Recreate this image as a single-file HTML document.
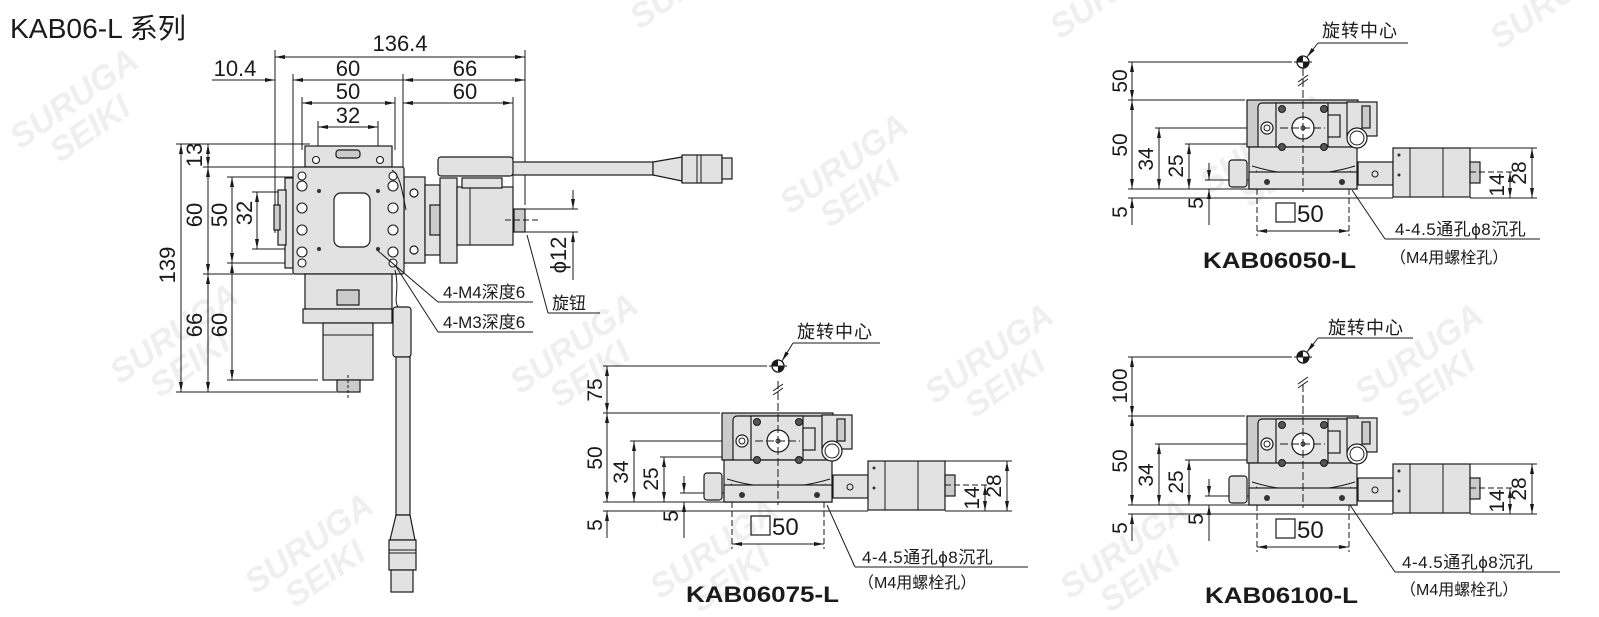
<!DOCTYPE html>
<html><head><meta charset="utf-8"><style>
html,body{margin:0;padding:0;background:#fff}
svg{display:block}
text{font-family:"Liberation Sans","Noto Sans CJK SC",sans-serif;fill:#1a1a1a}
.l{stroke:#1a1a1a;stroke-width:1;fill:none}
.f{fill:#e2e2e2;stroke:#1a1a1a;stroke-width:1.2}
.g{fill:#cbcbcb;stroke:#1a1a1a;stroke-width:1.2}
.w{fill:#fff;stroke:#1a1a1a;stroke-width:1.2}
.d{stroke:#1a1a1a;stroke-width:1;fill:none;marker-start:url(#a);marker-end:url(#a)}
.wm{font-family:"Liberation Sans",sans-serif;font-weight:bold;font-style:italic;fill:#efefef;font-size:34px}
</style></head><body>
<svg width="1599" height="617" viewBox="0 0 1599 617" xmlns="http://www.w3.org/2000/svg">
<defs>
<marker id="a" viewBox="0 0 10 4" refX="10" refY="2" markerWidth="10" markerHeight="4" markerUnits="userSpaceOnUse" orient="auto-start-reverse"><path d="M0,0L10,2L0,4z" fill="#1a1a1a"/></marker>
</defs>

<g>
<g transform="translate(20,150) rotate(-35)"><text class="wm" x="0" y="0">SURUGA</text><text class="wm" x="25" y="34">SEIKI</text></g>
<g transform="translate(790,215) rotate(-35)"><text class="wm" x="0" y="0">SURUGA</text><text class="wm" x="25" y="34">SEIKI</text></g>
<g transform="translate(120,385) rotate(-35)"><text class="wm" x="0" y="0">SURUGA</text><text class="wm" x="25" y="34">SEIKI</text></g>
<g transform="translate(520,395) rotate(-35)"><text class="wm" x="0" y="0">SURUGA</text><text class="wm" x="25" y="34">SEIKI</text></g>
<g transform="translate(935,405) rotate(-35)"><text class="wm" x="0" y="0">SURUGA</text><text class="wm" x="25" y="34">SEIKI</text></g>
<g transform="translate(1365,405) rotate(-35)"><text class="wm" x="0" y="0">SURUGA</text><text class="wm" x="25" y="34">SEIKI</text></g>
<g transform="translate(255,595) rotate(-35)"><text class="wm" x="0" y="0">SURUGA</text><text class="wm" x="25" y="34">SEIKI</text></g>
<g transform="translate(660,600) rotate(-35)"><text class="wm" x="0" y="0">SURUGA</text><text class="wm" x="25" y="34">SEIKI</text></g>
<g transform="translate(1070,600) rotate(-35)"><text class="wm" x="0" y="0">SURUGA</text><text class="wm" x="25" y="34">SEIKI</text></g>
<g transform="translate(1210,195) rotate(-35)"><text class="wm" x="0" y="0">SURUGA</text><text class="wm" x="25" y="34">SEIKI</text></g>
<g transform="translate(1500,50) rotate(-35)"><text class="wm" x="0" y="0">SURUGA</text></g>
<g transform="translate(640,30) rotate(-35)"><text class="wm" x="0" y="0">SURUGA</text></g>
<g transform="translate(1060,40) rotate(-35)"><text class="wm" x="0" y="0">SURUGA</text></g>
</g>

<text x="10" y="38" font-size="28" textLength="176" lengthAdjust="spacingAndGlyphs">KAB06-L 系列</text>

<g>
<line class="l" x1="275" y1="50" x2="275" y2="233"/>
<line class="l" x1="525" y1="50" x2="525" y2="205"/>
<line class="l" x1="293" y1="74" x2="293" y2="167"/>
<line class="l" x1="403" y1="74" x2="403" y2="177"/>
<line class="l" x1="302" y1="97" x2="302" y2="150"/>
<line class="l" x1="395" y1="97" x2="395" y2="150"/>
<line class="l" x1="513" y1="97" x2="513" y2="187"/>
<line class="l" x1="318" y1="121" x2="318" y2="146"/>
<line class="l" x1="378" y1="121" x2="378" y2="146"/>
<line class="d" x1="275" y1="57" x2="525" y2="57"/>
<text x="400" y="51" font-size="22" text-anchor="middle">136.4</text>
<line class="l" x1="212" y1="80" x2="275" y2="80" marker-end="url(#a)"/>
<text x="235" y="76" font-size="22" text-anchor="middle">10.4</text>
<line class="l" x1="293" y1="80" x2="403" y2="80" marker-start="url(#a)"/>
<line class="d" x1="403" y1="80" x2="525" y2="80"/>
<text x="348" y="76" font-size="22" text-anchor="middle">60</text>
<text x="465" y="76" font-size="22" text-anchor="middle">66</text>
<line class="d" x1="302" y1="103" x2="395" y2="103"/>
<line class="d" x1="403" y1="103" x2="513" y2="103"/>
<text x="348" y="99" font-size="22" text-anchor="middle">50</text>
<text x="465" y="99" font-size="22" text-anchor="middle">60</text>
<line class="d" x1="318" y1="127" x2="378" y2="127"/>
<text x="348" y="123" font-size="22" text-anchor="middle">32</text>

<line class="l" x1="176" y1="144" x2="310" y2="144"/>
<line class="l" x1="203" y1="167" x2="293" y2="167"/>
<line class="l" x1="227" y1="177" x2="300" y2="177"/>
<line class="l" x1="252" y1="192" x2="300" y2="192"/>
<line class="l" x1="252" y1="249" x2="300" y2="249"/>
<line class="l" x1="227" y1="263" x2="300" y2="263"/>
<line class="l" x1="203" y1="274" x2="293" y2="274"/>
<line class="l" x1="227" y1="380" x2="318" y2="380"/>
<line class="l" x1="176" y1="392" x2="336" y2="392"/>
<line class="d" x1="181" y1="144" x2="181" y2="392"/>
<line class="d" x1="208" y1="144" x2="208" y2="167"/>
<line class="d" x1="208" y1="167" x2="208" y2="274"/>
<line class="d" x1="208" y1="274" x2="208" y2="392"/>
<line class="d" x1="232" y1="177" x2="232" y2="263"/>
<line class="d" x1="232" y1="263" x2="232" y2="380"/>
<line class="d" x1="257" y1="192" x2="257" y2="249"/>
<g font-size="22" text-anchor="middle">
<text transform="translate(202,155) rotate(-90)">13</text>
<text transform="translate(202,215) rotate(-90)">60</text>
<text transform="translate(227,215) rotate(-90)">50</text>
<text transform="translate(252,213) rotate(-90)">32</text>
<text transform="translate(175,265) rotate(-90)">139</text>
<text transform="translate(202,325) rotate(-90)">66</text>
<text transform="translate(227,325) rotate(-90)">60</text>
</g>

<rect class="f" x="512" y="162" width="141" height="13"/>
<path class="f" d="M653,162 L682,157 L682,181 L653,175 Z"/>
<rect class="f" x="682" y="155" width="40" height="28"/>
<line class="l" x1="697" y1="155" x2="697" y2="183"/><line class="l" x1="701" y1="155" x2="701" y2="183"/>
<rect class="f" x="722" y="158" width="10" height="21"/>
<rect class="f" x="438" y="157" width="75" height="19" rx="3"/>
<rect class="f" x="404" y="177" width="21" height="86"/>
<circle class="w" cx="414" cy="193" r="4"/><circle class="w" cx="414" cy="250" r="4"/>
<rect class="f" x="425" y="185" width="15" height="70"/>
<rect class="g" x="430" y="205" width="10" height="30"/>
<rect class="f" x="440" y="178" width="17" height="85"/>
<rect class="f" x="457" y="187" width="56" height="58"/>
<line class="l" x1="470" y1="187" x2="470" y2="245"/>
<rect class="f" x="462" y="178" width="40" height="10"/>
<rect class="g" x="514" y="209" width="11" height="23"/>
<line class="l" x1="505" y1="220" x2="540" y2="220" stroke-dasharray="6,3"/>
<line class="l" x1="525" y1="209" x2="578" y2="209"/>
<line class="l" x1="525" y1="232" x2="578" y2="232"/>
<line class="l" x1="573" y1="190" x2="573" y2="209" marker-end="url(#a)"/>
<line class="l" x1="573" y1="280" x2="573" y2="232" marker-end="url(#a)"/>
<text transform="translate(566,255) rotate(-90)" font-size="22" text-anchor="middle">ϕ12</text>
<rect class="f" x="305" y="146" width="87" height="21"/>
<rect class="g" x="336" y="150" width="24" height="8" rx="3"/>
<rect class="f" x="285" y="178" width="8" height="90"/>
<rect class="f" x="278" y="190" width="8" height="55"/>
<rect class="g" x="274" y="205" width="6" height="25"/>
<rect class="f" x="293" y="167" width="111" height="107" rx="2"/>
<rect class="w" x="334" y="193" width="36" height="54" rx="7"/>
<g fill="#fff" stroke="#1a1a1a" stroke-width="1.1">
<circle cx="302" cy="176" r="4"/><circle cx="302" cy="186" r="5"/><circle cx="302" cy="208" r="5"/><circle cx="302" cy="230" r="5"/><circle cx="302" cy="252" r="5"/><circle cx="302" cy="263" r="4"/>
<circle cx="393" cy="176" r="4"/><circle cx="393" cy="186" r="5"/><circle cx="393" cy="208" r="5"/><circle cx="393" cy="230" r="5"/><circle cx="393" cy="252" r="5"/><circle cx="393" cy="263" r="4"/>
<circle cx="316" cy="160" r="3.5"/><circle cx="380" cy="160" r="3.5"/>
</g>
<g fill="#333"><circle cx="319" cy="191" r="2"/><circle cx="378" cy="191" r="2"/><circle cx="319" cy="249" r="2"/><circle cx="378" cy="249" r="2"/></g>
<rect class="f" x="305" y="274" width="87" height="35"/>
<rect class="g" x="337" y="290" width="22" height="15"/>
<rect class="f" x="303" y="309" width="89" height="14"/>
<rect class="f" x="323" y="323" width="50" height="57"/>
<line class="l" x1="323" y1="335" x2="373" y2="335"/>
<rect class="g" x="337" y="380" width="23" height="12"/>
<line class="l" x1="348" y1="375" x2="348" y2="398" stroke-dasharray="3,2"/>
<path class="l" d="M392,170 C400,175 402,190 406,210"/>
<path class="l" d="M395,270 C400,290 393,300 398,307"/>
<rect class="f" x="393" y="307" width="18" height="50" rx="3"/>
<rect class="f" x="396" y="357" width="14" height="158"/>
<path class="f" d="M396,515 L410,515 L415,540 L390,540 Z"/>
<rect class="f" x="389" y="540" width="27" height="30"/>
<line class="l" x1="389" y1="550" x2="416" y2="550"/><line class="l" x1="389" y1="553" x2="416" y2="553"/>
<rect class="f" x="391" y="570" width="22" height="22"/>
<line class="l" x1="377" y1="250" x2="438" y2="302"/>
<line class="l" x1="438" y1="302" x2="533" y2="302"/>
<text x="443" y="298" font-size="17">4-M4深度6</text>
<line class="l" x1="395" y1="265" x2="438" y2="332"/>
<line class="l" x1="438" y1="332" x2="533" y2="332"/>
<text x="443" y="328" font-size="17">4-M3深度6</text>
<line class="l" x1="527" y1="235" x2="548" y2="313"/>
<line class="l" x1="548" y1="313" x2="600" y2="313"/>
<text x="552" y="309" font-size="17">旋钮</text>
</g>

<g id="sv">
<line class="l" x1="1128" y1="100" x2="1245" y2="100"/>
<line class="l" x1="1155" y1="128" x2="1250" y2="128"/>
<line class="l" x1="1185" y1="144" x2="1255" y2="144"/>
<line class="l" x1="1205" y1="180" x2="1250" y2="180"/>
<line class="l" x1="1128" y1="189" x2="1260" y2="189"/>
<line class="l" x1="1128" y1="198" x2="1393" y2="198"/>
<line class="d" x1="1132" y1="100" x2="1132" y2="189"/>
<line class="l" x1="1132" y1="225" x2="1132" y2="198" marker-end="url(#a)"/>
<line class="d" x1="1159" y1="128" x2="1159" y2="189"/>
<line class="d" x1="1189" y1="144" x2="1189" y2="189"/>
<line class="l" x1="1209" y1="163" x2="1209" y2="180" marker-end="url(#a)"/>
<line class="l" x1="1209" y1="225" x2="1209" y2="189" marker-end="url(#a)"/>
<g font-size="21" text-anchor="middle">
<text transform="translate(1127,145) rotate(-90)">50</text>
<text transform="translate(1153,159) rotate(-90)">34</text>
<text transform="translate(1183,166) rotate(-90)">25</text>
<text transform="translate(1127,212) rotate(-90)">5</text>
<text transform="translate(1203,203) rotate(-90)">5</text>
</g>
<rect class="f" x="1229" y="160" width="18" height="27" rx="3"/>
<rect class="g" x="1247" y="100" width="111" height="47"/>
<rect class="f" x="1258" y="103" width="100" height="47" rx="4"/>
<rect class="f" x="1276" y="103" width="52" height="44"/>
<path class="f" d="M1249,147 L1357,147 L1357,189 L1249,189 Z"/>
<path class="l" d="M1252,166 Q1303,182 1355,166"/>
<path class="l" d="M1256,171 Q1303,186 1351,171" stroke-dasharray="1,2"/>
<rect class="f" x="1249" y="172" width="108" height="17"/>
<circle cx="1267" cy="182" r="3" fill="#333"/><circle cx="1342" cy="182" r="3" fill="#333"/>
<circle class="w" cx="1303" cy="128" r="11"/><circle class="l" cx="1303" cy="128" r="2"/>
<circle class="w" cx="1267" cy="128" r="6"/><circle class="l" cx="1267" cy="128" r="3"/>
<g fill="#555" stroke="#1a1a1a"><circle cx="1282" cy="109" r="3.5"/><circle cx="1324" cy="109" r="3.5"/><circle cx="1282" cy="147" r="3.5"/><circle cx="1324" cy="147" r="3.5"/></g>
<rect class="f" x="1328" y="115" width="12" height="22"/>
<rect class="f" x="1347" y="102" width="30" height="34"/>
<rect class="g" x="1362" y="106" width="8" height="22"/>
<circle class="w" cx="1357" cy="138" r="10"/><circle class="l" cx="1357" cy="138" r="7"/>
<rect class="f" x="1358" y="162" width="35" height="23"/>
<circle class="l" cx="1375" cy="174" r="3"/>
<rect class="f" x="1393" y="148" width="77" height="49"/>
<line class="l" x1="1410" y1="148" x2="1410" y2="197"/>
<line class="l" x1="1443" y1="148" x2="1443" y2="197"/>
<circle cx="1399" cy="155" r="1.5" fill="#333"/><circle cx="1399" cy="175" r="1.5" fill="#333"/>
<rect class="g" x="1470" y="162" width="10" height="21"/>
<line class="l" x1="1303" y1="68" x2="1303" y2="192" stroke-dasharray="8,3"/>
<line class="l" x1="1280" y1="128" x2="1325" y2="128" stroke-dasharray="8,3"/>
<line class="l" x1="1470" y1="148" x2="1537" y2="148"/>
<line class="l" x1="1470" y1="172" x2="1515" y2="172" stroke-dasharray="6,3"/>
<line class="l" x1="1470" y1="198" x2="1537" y2="198"/>
<line class="d" x1="1532" y1="148" x2="1532" y2="198"/>
<line class="d" x1="1510" y1="172" x2="1510" y2="198"/>
<text transform="translate(1526,173) rotate(-90)" font-size="21" text-anchor="middle">28</text>
<text transform="translate(1504,185) rotate(-90)" font-size="21" text-anchor="middle">14</text>
<line class="l" x1="1257" y1="189" x2="1257" y2="236" stroke-dasharray="6,3"/>
<line class="l" x1="1349" y1="189" x2="1349" y2="236" stroke-dasharray="6,3"/>
<line class="d" x1="1257" y1="231" x2="1349" y2="231"/>
<rect x="1276" y="203" width="19" height="19" fill="none" stroke="#1a1a1a" stroke-width="1.2"/>
<text x="1297" y="222" font-size="24">50</text>
</g>

<g>
<line class="l" x1="1128" y1="62" x2="1292" y2="62"/>
<line class="d" x1="1132" y1="62" x2="1132" y2="100"/>
<text transform="translate(1127,81) rotate(-90)" font-size="21" text-anchor="middle">50</text>
<circle cx="1303" cy="62" r="6" fill="#fff" stroke="#1a1a1a" stroke-width="1.3"/>
<path d="M1303,62 L1297,62 A6,6 0 0 1 1303,56 Z M1303,62 L1309,62 A6,6 0 0 1 1303,68 Z" fill="#1a1a1a"/>
<line class="l" x1="1294" y1="62" x2="1312" y2="62"/>
<line class="l" x1="1298" y1="86" x2="1308" y2="79"/><line class="l" x1="1298" y1="82" x2="1308" y2="75"/>
<line class="l" x1="1307" y1="57" x2="1318" y2="43" marker-start="url(#a)"/>
<line class="l" x1="1318" y1="43" x2="1408" y2="43"/>
<text x="1322" y="37" font-size="18" letter-spacing="1">旋转中心</text>
<line class="l" x1="1352" y1="190" x2="1385" y2="239"/>
<line class="l" x1="1385" y1="239" x2="1540" y2="239"/>
<text x="1395" y="235" font-size="17" letter-spacing="0.5">4-4.5通孔ϕ8沉孔</text>
<text x="1390" y="263" font-size="16">（M4用螺栓孔）</text>
<text x="1203" y="268" font-size="22" font-weight="bold" textLength="153" lengthAdjust="spacingAndGlyphs">KAB06050-L</text>
</g>

<use href="#sv" transform="translate(-525,313)"/>
<g transform="translate(-525,313)">
<line class="l" x1="1128" y1="53" x2="1292" y2="53"/>
<line class="d" x1="1132" y1="53" x2="1132" y2="100"/>
<text transform="translate(1127,77) rotate(-90)" font-size="21" text-anchor="middle">75</text>
<circle cx="1303" cy="53" r="6" fill="#fff" stroke="#1a1a1a" stroke-width="1.3"/>
<path d="M1303,53 L1297,53 A6,6 0 0 1 1303,47 Z M1303,53 L1309,53 A6,6 0 0 1 1303,59 Z" fill="#1a1a1a"/>
<line class="l" x1="1294" y1="53" x2="1312" y2="53"/>
<line class="l" x1="1298" y1="82" x2="1308" y2="75"/><line class="l" x1="1298" y1="78" x2="1308" y2="71"/>
<line class="l" x1="1307" y1="48" x2="1318" y2="30" marker-start="url(#a)"/>
<line class="l" x1="1318" y1="30" x2="1405" y2="30"/>
<text x="1322" y="25" font-size="18" letter-spacing="1">旋转中心</text>
</g>
<line class="l" x1="827" y1="505" x2="855" y2="567"/>
<line class="l" x1="855" y1="567" x2="1028" y2="567"/>
<text x="862" y="563" font-size="17" letter-spacing="0.5">4-4.5通孔ϕ8沉孔</text>
<text x="858" y="588" font-size="16">（M4用螺栓孔）</text>
<text x="686" y="602" font-size="22" font-weight="bold" textLength="153" lengthAdjust="spacingAndGlyphs">KAB06075-L</text>

<use href="#sv" transform="translate(0,316)"/>
<g transform="translate(0,316)">
<line class="l" x1="1128" y1="41" x2="1292" y2="41"/>
<line class="d" x1="1132" y1="41" x2="1132" y2="100"/>
<text transform="translate(1127,70) rotate(-90)" font-size="21" text-anchor="middle">100</text>
<circle cx="1303" cy="41" r="6" fill="#fff" stroke="#1a1a1a" stroke-width="1.3"/>
<path d="M1303,41 L1297,41 A6,6 0 0 1 1303,35 Z M1303,41 L1309,41 A6,6 0 0 1 1303,47 Z" fill="#1a1a1a"/>
<line class="l" x1="1294" y1="41" x2="1312" y2="41"/>
<line class="l" x1="1298" y1="72" x2="1308" y2="65"/><line class="l" x1="1298" y1="68" x2="1308" y2="61"/>
<line class="l" x1="1307" y1="36" x2="1318" y2="22" marker-start="url(#a)"/>
<line class="l" x1="1318" y1="22" x2="1413" y2="22"/>
<text x="1328" y="18" font-size="18" letter-spacing="1">旋转中心</text>
</g>
<line class="l" x1="1350" y1="505" x2="1395" y2="572"/>
<line class="l" x1="1395" y1="572" x2="1560" y2="572"/>
<text x="1402" y="568" font-size="17" letter-spacing="0.5">4-4.5通孔ϕ8沉孔</text>
<text x="1400" y="595" font-size="16">（M4用螺栓孔）</text>
<text x="1205" y="603" font-size="22" font-weight="bold" textLength="153" lengthAdjust="spacingAndGlyphs">KAB06100-L</text>
</svg>
</body></html>
